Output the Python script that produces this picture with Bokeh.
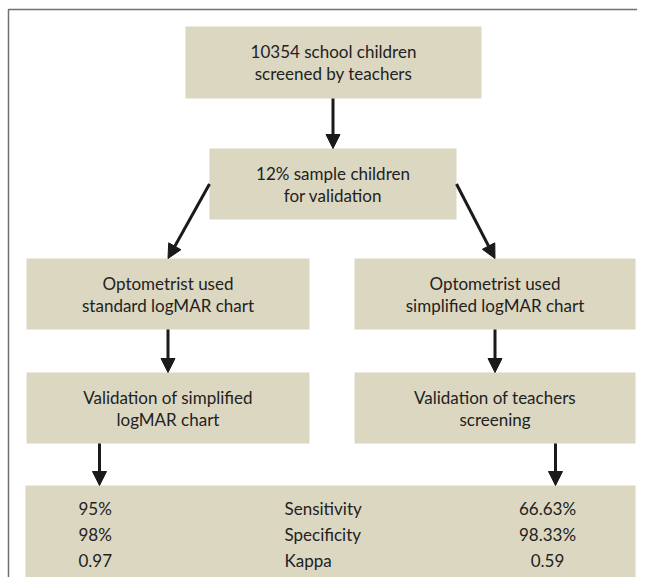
from bokeh.plotting import figure
from bokeh.models import Range1d, Arrow, NormalHead
from bokeh.core.properties import value
from bokeh.embed import file_html
from bokeh.resources import INLINE

# ---- data ----
node_labels = [
    "10354 school children\nscreened by teachers",
    "12% sample children\nfor validation",
    "Optometrist used\nstandard logMAR chart",
    "Optometrist used\nsimplified logMAR chart",
    "Validation of simplified\nlogMAR chart",
    "Validation of teachers\nscreening",
]
metric_names = ["Sensitivity", "Specificity", "Kappa"]
simplified_chart_values = ["95%", "98%", "0.97"]
teacher_screening_values = ["66.63%", "98.33%", "0.59"]
edges = [(0, 1), (1, 2), (1, 3), (2, 4), (3, 5)]

# ---- layout (picture pixel coordinates) ----
# boxes: (left, right, top, bottom)
boxes = [
    (185, 481, 26, 98),
    (209, 456, 148, 219),
    (26, 309, 258, 329),
    (354, 635, 258, 329),
    (26, 309, 372, 443),
    (354, 635, 372, 443),
]
result_box = (25, 635, 485, 577)
row_y = [508, 534, 560]

FILL = "#dcd7c1"
TXT = "#222222"
FONT = "Lato"

W, H = 637, 577
p = figure(width=W, height=H, output_backend="svg", toolbar_location=None,
           x_range=Range1d(0, W), y_range=Range1d(H, 0),
           min_border=0)
p.axis.visible = False
p.grid.visible = False
p.outline_line_color = None
p.background_fill_color = "white"
p.border_fill_color = "white"

# frame lines
p.line([8, 8, 645], [585, 9, 9], line_color="#707070", line_width=1.5)

# boxes
allb = boxes + [result_box]
p.quad(left=[b[0] for b in allb], right=[b[1] for b in allb],
       top=[b[2] for b in allb], bottom=[b[3] for b in allb],
       fill_color=FILL, line_color=None)

# node texts
for b, lab in zip(boxes, node_labels):
    cx = (b[0] + b[1]) / 2
    top = b[2]
    lines = lab.split("\n")
    p.text(x=[cx] * len(lines), y=[top + 25 + 22 * i for i in range(len(lines))],
           text=lines, text_align="center", text_baseline="middle",
           text_font=value(FONT), text_font_size="17px", text_color=TXT)

# result table
p.text(x=[78] * 3, y=row_y, text=simplified_chart_values, text_align="left",
       text_baseline="middle", text_font=value(FONT), text_font_size="17px", text_color=TXT)
p.text(x=[284] * 3, y=row_y, text=metric_names, text_align="left",
       text_baseline="middle", text_font=value(FONT), text_font_size="17px", text_color=TXT)
p.text(x=[547] * 3, y=row_y, text=teacher_screening_values, text_align="center",
       text_baseline="middle", text_font=value(FONT), text_font_size="17px", text_color=TXT)

ARROW = "#1a1a1a"

def add_arrow(x0, y0, x1, y1):
    p.add_layout(Arrow(end=NormalHead(size=14, fill_color=ARROW, line_color=ARROW, line_width=1),
                       x_start=x0, y_start=y0, x_end=x1, y_end=y1,
                       line_color=ARROW, line_width=3))

for a, b in edges:
    sa, sb = boxes[a], boxes[b]
    ca = (sa[0] + sa[1]) / 2
    cb = (sb[0] + sb[1]) / 2
    if abs(ca - cb) < 5:
        add_arrow(cb, sa[3], cb, sb[2])
    else:
        xs = sa[0] if cb < ca else sa[1]
        add_arrow(xs, (sa[2] + sa[3]) / 2, cb, sb[2])

# arrows into result box
add_arrow(99, boxes[4][3], 99, result_box[2])
add_arrow(555, boxes[5][3], 555, result_box[2])

open("out.html", "w").write(file_html(p, INLINE))
